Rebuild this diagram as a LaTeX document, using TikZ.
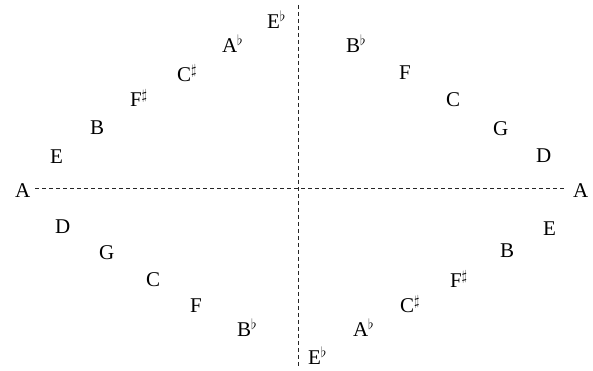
\documentclass[tikz,border=0pt]{standalone}
\usepackage{fontspec}
\setmainfont{Liberation Serif}
\begin{document}
\begin{tikzpicture}[x=1pt,y=1pt,
  note/.style={anchor=base west,inner sep=0pt,outer sep=0pt,font=\fontsize{21}{25}\selectfont},
  axis/.style={line width=0.8pt,dash pattern=on 4pt off 3pt,black!85}]
\useasboundingbox (0,0) rectangle (593,371);
% axes
\coordinate (hl) at (35,183);
\coordinate (hr) at (566,183);
\coordinate (vt) at (298,366);
\coordinate (vb) at (298,3);
\draw[axis] (hl) -- (hr);
\draw[axis] (vt) -- (vb);
% A
\node[note] (Al) at (15,173) {A};
\node[note] (Ar) at (573,173) {A};
% top left
\node[note] (tlE) at (50,207) {E};
\node[note] (tlB) at (90,236) {B};
\node[note] (tlFs) at (130,264) {F$^\sharp$};
\node[note] (tlCs) at (177,289) {C$^\sharp$};
\node[note] (tlAb) at (222,318) {A$^\flat$};
\node[note] (tlEb) at (267,342) {E$^\flat$};
% top right
\node[note] (trBb) at (346,318) {B$^\flat$};
\node[note] (trF) at (399,291) {F};
\node[note] (trC) at (446,264) {C};
\node[note] (trG) at (493,235) {G};
\node[note] (trD) at (536,208) {D};
% bottom left
\node[note] (blD) at (55,137) {D};
\node[note] (blG) at (99,111) {G};
\node[note] (blC) at (146,84) {C};
\node[note] (blF) at (190,58) {F};
\node[note] (blBb) at (237,34) {B$^\flat$};
% bottom right
\node[note] (brE) at (543,135) {E};
\node[note] (brB) at (500,113) {B};
\node[note] (brFs) at (450,83) {F$^\sharp$};
\node[note] (brCs) at (400,58) {C$^\sharp$};
\node[note] (brAb) at (353,34) {A$^\flat$};
\node[note] (brEb) at (308,6) {E$^\flat$};
\end{tikzpicture}
\end{document}
